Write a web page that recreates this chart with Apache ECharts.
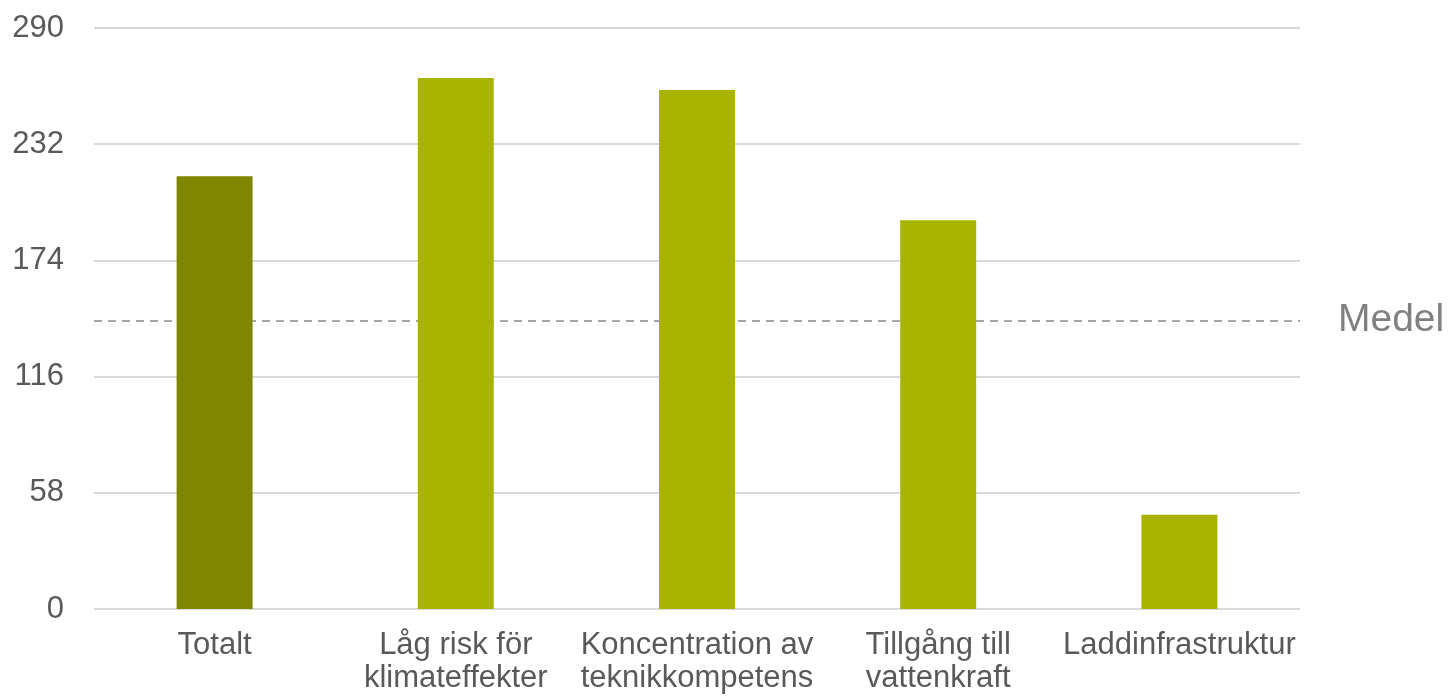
<!DOCTYPE html>
<html>
<head>
<meta charset="utf-8">
<script src="https://cdn.jsdelivr.net/npm/echarts@6/dist/echarts.min.js"></script>
<style>
  html, body { margin: 0; padding: 0; background: #fff; }
  #chart { width: 1452px; height: 698px; }
</style>
</head>
<body>
<div id="chart"></div>
<script>
// Kategorier och värden
const categories = ['Totalt', 'Låg risk för\nklimateffekter', 'Koncentration av\nteknikkompetens', 'Tillgång till\nvattenkraft', 'Laddinfrastruktur'];
const values = [216, 265, 259, 194, 47];
const barColors = ['#7f8600', '#a9b400', '#a9b400', '#a9b400', '#a9b400'];
const medel = 144;
const yTicks = [0, 58, 116, 174, 232, 290];

const chart = echarts.init(document.getElementById('chart'));
chart.setOption({
  animation: false,
  grid: { left: 94, right: 152, top: 28, bottom: 89, outerBoundsMode: 'none' },
  xAxis: {
    type: 'category',
    data: categories,
    axisLine: { show: false },
    axisTick: { show: false },
    axisLabel: {
      interval: 0,
      margin: 20,
      fontFamily: 'Liberation Sans, Arial, sans-serif',
      fontSize: 31,
      lineHeight: 33,
      color: '#595959'
    }
  },
  yAxis: {
    type: 'value',
    min: yTicks[0],
    max: yTicks[yTicks.length - 1],
    interval: 58,
    axisLine: { show: false },
    axisTick: { show: false },
    splitLine: { lineStyle: { color: '#d9d9d9', width: 2 } },
    axisLabel: {
      margin: 30,
      fontFamily: 'Liberation Sans, Arial, sans-serif',
      fontSize: 31,
      color: '#595959'
    }
  },
  series: [{
    type: 'bar',
    z: 3,
    barWidth: '31.5%',
    data: values.map((v, i) => ({ value: v, itemStyle: { color: barColors[i] } })),
    markLine: {
      silent: true,
      z: 1,
      symbol: 'none',
      data: [{ yAxis: medel }],
      lineStyle: { color: '#a6a6a6', type: [8, 6], width: 2 },
      label: {
        show: true,
        position: 'end',
        distance: 38,
        formatter: 'Medel',
        fontFamily: 'Liberation Sans, Arial, sans-serif',
        fontSize: 39,
        color: '#808080'
      }
    }
  }]
});
</script>
</body>
</html>
